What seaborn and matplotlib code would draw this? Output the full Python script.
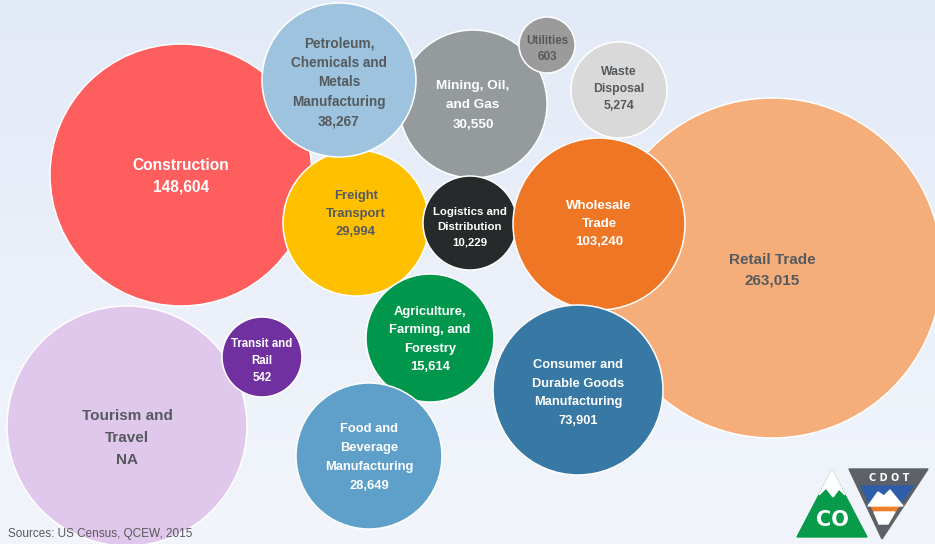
import numpy as np
import pandas as pd
import matplotlib
matplotlib.use("Agg")
import matplotlib.pyplot as plt
from matplotlib.patches import Polygon
import seaborn as sns

# Industry sectors and their employment counts (None = not available)
categories = [
    "Retail Trade", "Tourism and Travel", "Construction", "Mining, Oil, and Gas",
    "Freight Transport", "Petroleum, Chemicals and Metals Manufacturing",
    "Utilities", "Waste Disposal", "Logistics and Distribution",
    "Wholesale Trade", "Consumer and Durable Goods Manufacturing",
    "Agriculture, Farming, and Forestry", "Transit and Rail",
    "Food and Beverage Manufacturing",
]
employment = [263015, None, 148604, 30550, 29994, 38267, 603, 5274, 10229,
              103240, 73901, 15614, 542, 28649]
label_names = [
    "Retail Trade", "Tourism and\nTravel", "Construction", "Mining, Oil,\nand Gas",
    "Freight\nTransport", "Petroleum,\nChemicals and\nMetals\nManufacturing",
    "Utilities", "Waste\nDisposal", "Logistics and\nDistribution",
    "Wholesale\nTrade", "Consumer and\nDurable Goods\nManufacturing",
    "Agriculture,\nFarming, and\nForestry", "Transit and\nRail",
    "Food and\nBeverage\nManufacturing",
]

# Packed-bubble layout (pixel space) and bubble radii
bubble_x = [772, 127, 181, 473, 356, 339, 547, 619, 470, 599, 578, 430, 262, 369]
bubble_y = [268, 426, 175, 104, 223, 80, 45, 90, 223, 224, 390, 338, 357, 456]
bubble_r = [170, 120, 131, 74, 73, 77, 28, 48, 47, 86, 85, 64, 40, 73]

fill_colors = ["#F5AD7A", "#DFC8EC", "#FE5E5E", "#959A9C", "#FFC000", "#9DC3DE",
               "#9B9B9B", "#D9D9D9", "#262A2B", "#EE7625", "#3878A4", "#00964B",
               "#7030A0", "#5EA0CA"]
text_colors = ["#555A5E", "#555A5E", "white", "white", "#555A5E", "#555A5E",
               "#555A5E", "#555A5E", "white", "white", "white", "white",
               "white", "white"]
font_sizes = [11, 11, 11.2, 9.7, 9.4, 9.8, 8.4, 8.8, 8.2, 9.5, 9.3, 9.4, 8.3, 9.3]
line_gap = [1.60, 1.72, 1.57, 1.78, 1.72, 1.50, 1.46, 1.60, 1.68, 1.65, 1.74,
            1.74, 1.60, 1.78]
label_dy = [2, 12, 1, 1.5, -9, 2.5, 4, -1, 4, 0, 3, 1.5, 4, 1.5]

W, H, DPI = 935, 544, 100
sns.set_theme(style="white")
plt.rcParams["font.family"] = ["Liberation Sans", "DejaVu Sans"]

fig = plt.figure(figsize=(W / DPI, H / DPI), dpi=DPI)
ax = fig.add_axes([0, 0, 1, 1])
ax.set_xlim(0, W)
ax.set_ylim(H, 0)
ax.set_axis_off()

# Soft vertical background gradient
top = np.array([227, 234, 247]) / 255
bottom = np.array([242, 245, 251]) / 255
t = np.linspace(0, 1, 256)[:, None, None]
grad = top * (1 - t) + bottom * t
ax.imshow(grad, extent=[0, W, H, 0], aspect="auto", zorder=0)

df = pd.DataFrame({
    "sector": categories,
    "x": bubble_x,
    "y": bubble_y,
    "r": bubble_r,
})
# marker area in points^2 so the marker diameter equals 2r pixels
px_to_pt = 72 / DPI
size_map = {c: (2 * r * px_to_pt) ** 2 for c, r in zip(categories, bubble_r)}
palette = dict(zip(categories, fill_colors))

sns.scatterplot(data=df, x="x", y="y", hue="sector", size="sector",
                palette=palette, sizes=size_map, edgecolor="white",
                linewidth=1.1, legend=False, ax=ax, zorder=2, alpha=1)
ax.set_xlim(0, W)
ax.set_ylim(H, 0)

for name, val, x, y, col, fs, ls, dy in zip(label_names, employment, bubble_x,
                                             bubble_y, text_colors, font_sizes,
                                             line_gap, label_dy):
    val_txt = "NA" if val is None else f"{val:,}"
    ax.text(x, y + dy, f"{name}\n{val_txt}", ha="center", va="center",
            color=col, fontsize=fs, fontweight="bold", linespacing=ls,
            zorder=5)

ax.text(8, 534, "Sources: US Census, QCEW, 2015", ha="left", va="center",
        fontsize=8.5, color="#595959", zorder=5)

# Colorado / CDOT logo
ax.add_patch(Polygon([(797, 537), (867, 537), (832, 470)], closed=True,
                     color="#079B4A", zorder=6))
ax.add_patch(Polygon([(832, 470), (845, 495), (839, 489), (833, 497), (826, 488),
                      (819, 495)], closed=True, color="white", zorder=7))
ax.text(832, 520, "CO", ha="center", va="center", color="white", fontsize=15,
        fontweight="heavy", family=["DejaVu Sans"], zorder=7)
ax.add_patch(Polygon([(849, 469), (928, 469), (882, 539)], closed=True,
                     color="#5B6166", zorder=6))
ax.text(889, 478, "C D O T", ha="center", va="center", color="white",
        fontsize=7, fontweight="bold", family=["DejaVu Sans"], zorder=7)
ax.add_patch(Polygon([(861, 486), (913, 486), (899, 506), (871, 506)],
                     closed=True, color="#2E5EAA", zorder=7))
ax.add_patch(Polygon([(868, 506), (878, 492), (884, 496), (890, 490), (903, 506)],
                     closed=True, color="white", zorder=8))
ax.add_patch(Polygon([(871, 506), (899, 506), (895, 512), (874, 512)],
                     closed=True, color="#F07F2A", zorder=7))
ax.add_patch(Polygon([(874, 512), (895, 512), (888, 524), (879, 524)],
                     closed=True, color="white", zorder=7))

fig.savefig("out.png", dpi=DPI)
